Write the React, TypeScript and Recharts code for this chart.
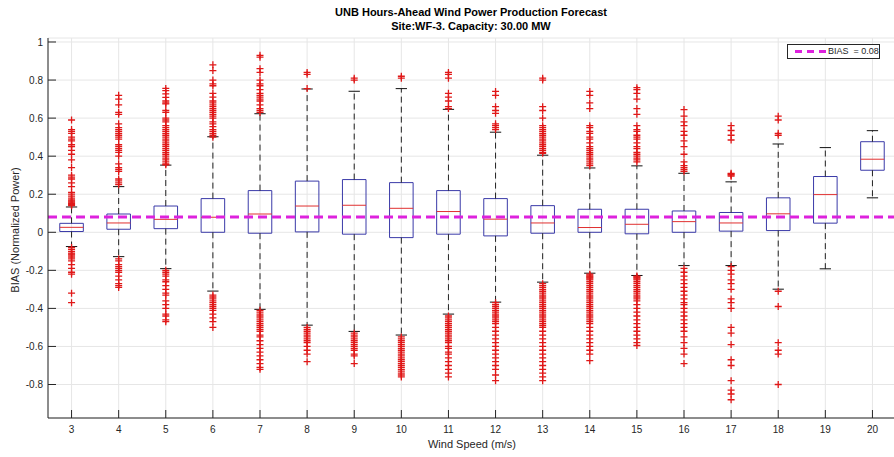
import React from 'react';
import { ScatterChart, Scatter, XAxis, YAxis, CartesianGrid, ReferenceArea, ReferenceLine } from 'recharts';

// wind speed bins (m/s)
const windSpeeds = [3, 4, 5, 6, 7, 8, 9, 10, 11, 12, 13, 14, 15, 16, 17, 18, 19, 20];

// box statistics per bin
const q1 = [0.004, 0.016, 0.019, 0.0, -0.005, 0.002, -0.01, -0.028, -0.01, -0.019, -0.005, 0.0, -0.008, 0.0, 0.006, 0.009, 0.048, 0.326];
const medians = [0.026, 0.049, 0.068, 0.079, 0.096, 0.138, 0.142, 0.126, 0.109, 0.069, 0.049, 0.025, 0.042, 0.056, 0.049, 0.097, 0.198, 0.384];
const q3 = [0.047, 0.096, 0.138, 0.177, 0.219, 0.269, 0.277, 0.261, 0.219, 0.177, 0.14, 0.121, 0.121, 0.112, 0.104, 0.181, 0.293, 0.476];
const whiskerLow = [-0.075, -0.128, -0.191, -0.309, -0.405, -0.488, -0.521, -0.54, -0.43, -0.367, -0.262, -0.215, -0.227, -0.175, -0.175, -0.299, -0.192, 0.181];
const whiskerHigh = [0.133, 0.24, 0.353, 0.502, 0.623, 0.753, 0.741, 0.755, 0.646, 0.526, 0.405, 0.338, 0.349, 0.31, 0.265, 0.464, 0.445, 0.534];

// outliers above the upper whisker
const outliersHigh = [
  [0.59, 0.54, 0.53, 0.52, 0.5, 0.49, 0.48, 0.46, 0.45, 0.43, 0.41, 0.38, 0.34, 0.3, 0.29, 0.28, 0.26, 0.24, 0.21, 0.2, 0.19, 0.18, 0.17, 0.165, 0.16, 0.155, 0.15, 0.145, 0.14],
  [0.72, 0.7, 0.67, 0.63, 0.62, 0.57, 0.55, 0.54, 0.53, 0.52, 0.51, 0.5, 0.49, 0.46, 0.45, 0.44, 0.43, 0.42, 0.4, 0.36, 0.34, 0.33, 0.32, 0.28, 0.27, 0.26, 0.25],
  [0.756, 0.744, 0.727, 0.709, 0.69, 0.68, 0.675, 0.64, 0.63, 0.6, 0.59, 0.58, 0.56, 0.55, 0.54, 0.53, 0.52, 0.51, 0.5, 0.49, 0.48, 0.47, 0.46, 0.45, 0.44, 0.43, 0.42, 0.41, 0.4, 0.39, 0.38, 0.37, 0.36, 0.355],
  [0.88, 0.85, 0.8, 0.78, 0.77, 0.73, 0.71, 0.69, 0.68, 0.67, 0.66, 0.65, 0.64, 0.63, 0.62, 0.61, 0.6, 0.58, 0.57, 0.555, 0.54, 0.53, 0.52, 0.51, 0.5],
  [0.93, 0.92, 0.86, 0.84, 0.8, 0.78, 0.77, 0.75, 0.73, 0.72, 0.71, 0.7, 0.69, 0.67, 0.65, 0.64, 0.63],
  [0.84, 0.83, 0.755],
  [0.81, 0.8],
  [0.82, 0.81],
  [0.84, 0.83, 0.81, 0.73, 0.71, 0.69, 0.66, 0.65],
  [0.74, 0.72, 0.66, 0.64, 0.625, 0.57, 0.56, 0.55, 0.54],
  [0.81, 0.8, 0.66, 0.64, 0.6, 0.56, 0.55, 0.54, 0.53, 0.52, 0.51, 0.5, 0.49, 0.48, 0.47, 0.46, 0.45, 0.44, 0.43, 0.42, 0.415],
  [0.74, 0.72, 0.68, 0.65, 0.56, 0.55, 0.53, 0.52, 0.5, 0.49, 0.47, 0.45, 0.44, 0.43, 0.42, 0.41, 0.4, 0.39, 0.38, 0.37, 0.36, 0.35],
  [0.76, 0.75, 0.73, 0.7, 0.65, 0.62, 0.56, 0.54, 0.53, 0.51, 0.5, 0.49, 0.47, 0.45, 0.44, 0.42, 0.41, 0.4, 0.39, 0.38, 0.37],
  [0.645, 0.61, 0.58, 0.56, 0.53, 0.51, 0.48, 0.45, 0.41, 0.37, 0.35, 0.34, 0.33, 0.32],
  [0.56, 0.535, 0.51, 0.485, 0.31, 0.305, 0.3, 0.295],
  [0.61, 0.59, 0.52, 0.51],
  [],
  [],
];

// outliers below the lower whisker
const outliersLow = [
  [-0.08, -0.09, -0.1, -0.11, -0.115, -0.12, -0.13, -0.14, -0.15, -0.17, -0.19, -0.21, -0.22, -0.32, -0.37],
  [-0.14, -0.15, -0.17, -0.18, -0.19, -0.2, -0.21, -0.23, -0.25, -0.27, -0.28, -0.29],
  [-0.2, -0.21, -0.22, -0.23, -0.25, -0.26, -0.28, -0.3, -0.32, -0.33, -0.36, -0.38, -0.4, -0.43, -0.44, -0.46, -0.47],
  [-0.33, -0.34, -0.35, -0.36, -0.37, -0.38, -0.39, -0.4, -0.41, -0.43, -0.45, -0.47, -0.5],
  [-0.41, -0.42, -0.43, -0.44, -0.45, -0.46, -0.47, -0.48, -0.49, -0.5, -0.51, -0.52, -0.54, -0.55, -0.57, -0.59, -0.61, -0.63, -0.65, -0.67, -0.69, -0.71, -0.72],
  [-0.5, -0.51, -0.52, -0.53, -0.54, -0.55, -0.56, -0.57, -0.58, -0.6, -0.62, -0.64, -0.68],
  [-0.53, -0.54, -0.55, -0.56, -0.57, -0.58, -0.59, -0.6, -0.61, -0.62, -0.64, -0.65, -0.69],
  [-0.55, -0.56, -0.57, -0.58, -0.59, -0.6, -0.61, -0.62, -0.63, -0.64, -0.65, -0.66, -0.67, -0.68, -0.69, -0.7, -0.71, -0.72, -0.73, -0.74, -0.75, -0.76],
  [-0.44, -0.45, -0.46, -0.47, -0.48, -0.49, -0.5, -0.51, -0.52, -0.53, -0.54, -0.55, -0.56, -0.57, -0.58, -0.6, -0.61, -0.63, -0.64, -0.66, -0.68, -0.7, -0.72, -0.74, -0.76],
  [-0.37, -0.38, -0.39, -0.4, -0.41, -0.42, -0.43, -0.44, -0.45, -0.46, -0.47, -0.48, -0.5, -0.52, -0.54, -0.56, -0.58, -0.6, -0.62, -0.64, -0.66, -0.68, -0.7, -0.72, -0.75, -0.78],
  [-0.27, -0.28, -0.29, -0.3, -0.31, -0.32, -0.33, -0.34, -0.35, -0.36, -0.37, -0.38, -0.39, -0.4, -0.41, -0.42, -0.43, -0.44, -0.45, -0.46, -0.47, -0.48, -0.49, -0.5, -0.52, -0.54, -0.56, -0.58, -0.6, -0.62, -0.64, -0.66, -0.68, -0.7, -0.72, -0.74, -0.76, -0.78],
  [-0.22, -0.225, -0.23, -0.235, -0.24, -0.245, -0.25, -0.26, -0.27, -0.28, -0.29, -0.3, -0.31, -0.32, -0.33, -0.34, -0.35, -0.36, -0.37, -0.38, -0.39, -0.4, -0.41, -0.42, -0.43, -0.44, -0.45, -0.46, -0.47, -0.48, -0.5, -0.52, -0.54, -0.56, -0.58, -0.6, -0.62, -0.64, -0.675],
  [-0.23, -0.235, -0.24, -0.245, -0.25, -0.26, -0.27, -0.28, -0.29, -0.3, -0.31, -0.32, -0.33, -0.34, -0.35, -0.36, -0.38, -0.4, -0.42, -0.44, -0.46, -0.48, -0.5, -0.52, -0.54, -0.56, -0.58, -0.595],
  [-0.19, -0.21, -0.23, -0.25, -0.27, -0.29, -0.31, -0.33, -0.35, -0.37, -0.38, -0.4, -0.42, -0.44, -0.46, -0.48, -0.5, -0.52, -0.55, -0.58, -0.61, -0.64, -0.69],
  [-0.18, -0.2, -0.22, -0.25, -0.27, -0.3, -0.35, -0.37, -0.4, -0.5, -0.53, -0.59, -0.67, -0.7, -0.78, -0.83, -0.85, -0.88],
  [-0.31, -0.39, -0.58, -0.62, -0.64, -0.8],
  [],
  [],
];

const yTicks = [-0.8, -0.6, -0.4, -0.2, 0, 0.2, 0.4, 0.6, 0.8, 1];
const biasValue = 0.08;

const xDomain = [2.5, 20.5];
const yDomain = [-0.976, 1.021];

const AXIS = '#262626';
const BOX = '#3a3aa8';
const MEDIAN = '#e03030';
const OUTLIER = '#e01818';
const BIAS = '#dd22dd';
const FONT = '"Liberation Sans", Arial, sans-serif';

const outlierPoints = windSpeeds.flatMap((ws, i) =>
  [...outliersHigh[i], ...outliersLow[i]].map((v) => ({ x: ws, y: v }))
);

const BottomTick = ({ x, y, payload }: any) => (
  <g>
    <line x1={x} x2={x} y1={y} y2={y - 8} stroke={AXIS} />
    <text x={x} y={y + 8} dy="0.71em" textAnchor="middle" fontSize={10} fill={AXIS} fontFamily={FONT}>
      {payload.value}
    </text>
  </g>
);

const TopTick = ({ x, y }: any) => <line x1={x} x2={x} y1={y} y2={y + 8} stroke={AXIS} />;

const LeftTick = ({ x, y, payload }: any) => (
  <g>
    <line x1={x} x2={x + 8} y1={y} y2={y} stroke={AXIS} />
    <text x={x - 5} y={y} dy="0.355em" textAnchor="end" fontSize={10} fill={AXIS} fontFamily={FONT}>
      {payload.value}
    </text>
  </g>
);

const RightTick = ({ x, y }: any) => <line x1={x - 8} x2={x} y1={y} y2={y} stroke={AXIS} />;

const PlusMarker = ({ cx, cy }: any) => (
  <path d={`M${cx - 3.5},${cy}h7M${cx},${cy - 3.5}v7`} stroke={OUTLIER} strokeWidth={1.3} fill="none" />
);

export default function App() {
  const half = 0.25;
  const cap = 0.12;
  return (
    <div
      style={{
        position: 'absolute',
        left: 0,
        top: 0,
        width: 894,
        height: 457,
        overflow: 'hidden',
        background: '#fff',
        fontFamily: FONT,
      }}
    >
      <div style={{ position: 'absolute', left: 271, width: 400, top: 5, textAlign: 'center', fontSize: 11, fontWeight: 'bold', lineHeight: '14px', color: '#000' }}>
        UNB Hours-Ahead Wind Power Production Forecast
        <br />
        Site:WF-3. Capacity: 30.00 MW
      </div>

      <ScatterChart width={898} height={457} margin={{ top: 38, right: 2, left: 0, bottom: 0 }}>
        <CartesianGrid stroke="#e6e6e6" />
        <XAxis
          dataKey="x"
          type="number"
          domain={xDomain}
          ticks={windSpeeds}
          interval={0}
          allowDataOverflow
          height={39}
          tickSize={0}
          tickMargin={0}
          tick={<BottomTick />}
          axisLine={{ stroke: AXIS }}
        />
        <XAxis
          xAxisId="top"
          orientation="top"
          type="number"
          domain={xDomain}
          ticks={windSpeeds}
          interval={0}
          allowDataOverflow
          height={0}
          tickSize={0}
          tickMargin={0}
          tick={<TopTick />}
          axisLine={{ stroke: AXIS }}
        />
        <YAxis
          dataKey="y"
          type="number"
          domain={yDomain}
          ticks={yTicks}
          interval={0}
          allowDataOverflow
          width={48}
          tickSize={0}
          tickMargin={0}
          tick={<LeftTick />}
          axisLine={{ stroke: AXIS }}
        />
        <YAxis
          yAxisId="right"
          orientation="right"
          type="number"
          domain={yDomain}
          ticks={yTicks}
          interval={0}
          allowDataOverflow
          width={0}
          tickSize={0}
          tickMargin={0}
          tick={<RightTick />}
          axisLine={{ stroke: AXIS }}
        />

        {windSpeeds.map((ws, i) => (
          <ReferenceLine
            key={`wu${ws}`}
            segment={[{ x: ws, y: q3[i] }, { x: ws, y: whiskerHigh[i] }]}
            stroke="#222"
            strokeDasharray="6 4"
          />
        ))}
        {windSpeeds.map((ws, i) => (
          <ReferenceLine
            key={`wl${ws}`}
            segment={[{ x: ws, y: q1[i] }, { x: ws, y: whiskerLow[i] }]}
            stroke="#222"
            strokeDasharray="6 4"
          />
        ))}
        {windSpeeds.map((ws, i) => (
          <ReferenceLine
            key={`cu${ws}`}
            segment={[{ x: ws - cap, y: whiskerHigh[i] }, { x: ws + cap, y: whiskerHigh[i] }]}
            stroke="#111"
          />
        ))}
        {windSpeeds.map((ws, i) => (
          <ReferenceLine
            key={`cl${ws}`}
            segment={[{ x: ws - cap, y: whiskerLow[i] }, { x: ws + cap, y: whiskerLow[i] }]}
            stroke="#111"
          />
        ))}
        {windSpeeds.map((ws, i) => (
          <ReferenceArea
            key={`b${ws}`}
            x1={ws - half}
            x2={ws + half}
            y1={q1[i]}
            y2={q3[i]}
            stroke={BOX}
            strokeWidth={1}
            fill="#fff"
            fillOpacity={0}
          />
        ))}
        {windSpeeds.map((ws, i) => (
          <ReferenceLine
            key={`m${ws}`}
            segment={[{ x: ws - half, y: medians[i] }, { x: ws + half, y: medians[i] }]}
            stroke={MEDIAN}
          />
        ))}

        <Scatter data={outlierPoints} dataKey="y" shape={<PlusMarker />} isAnimationActive={false} />

        <ReferenceLine y={biasValue} stroke={BIAS} strokeWidth={3} strokeDasharray="9 5" />
      </ScatterChart>

      <div style={{ position: 'absolute', left: 372, width: 200, top: 438, textAlign: 'center', fontSize: 11, color: AXIS }}>
        Wind Speed (m/s)
      </div>
      <div
        style={{
          position: 'absolute',
          left: 15,
          top: 230,
          transform: 'translate(-50%, -50%) rotate(-90deg)',
          whiteSpace: 'nowrap',
          fontSize: 11,
          color: AXIS,
        }}
      >
        BIAS (Normalized Power)
      </div>

      <div
        style={{
          position: 'absolute',
          left: 787,
          top: 44,
          width: 93,
          height: 15,
          border: `1px solid ${AXIS}`,
          background: '#fff',
          boxSizing: 'border-box',
        }}
      >
        <svg width={40} height={13} style={{ position: 'absolute', left: 5, top: 0 }}>
          <line x1={2} x2={34} y1={6.5} y2={6.5} stroke={BIAS} strokeWidth={3} strokeDasharray="7 5" />
        </svg>
        <span style={{ position: 'absolute', left: 40, top: 1, fontSize: 9, lineHeight: '11px', color: AXIS, whiteSpace: 'pre' }}>
          {'BIAS  = 0.08'}
        </span>
      </div>
    </div>
  );
}
